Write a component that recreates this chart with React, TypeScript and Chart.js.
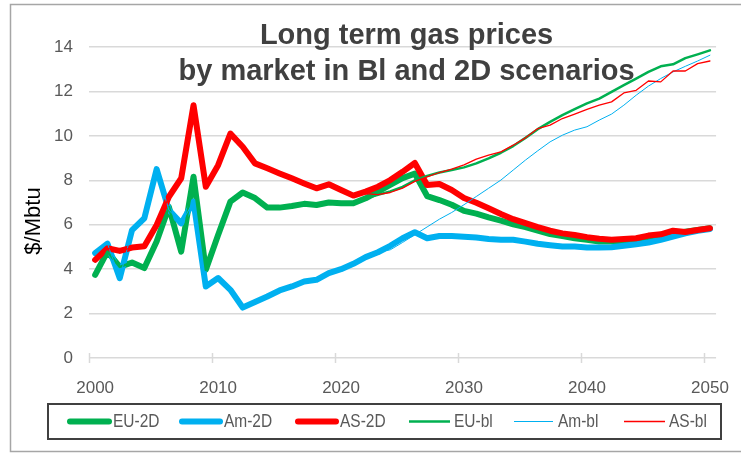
import React, { useEffect, useRef } from "react";
import { Chart, registerables } from "chart.js";

Chart.register(...registerables);

// ---------- DATA ----------
const years = [
  2000, 2001, 2002, 2003, 2004, 2005, 2006, 2007, 2008, 2009,
  2010, 2011, 2012, 2013, 2014, 2015, 2016, 2017, 2018, 2019,
  2020, 2021, 2022, 2023, 2024, 2025, 2026, 2027, 2028, 2029,
  2030, 2031, 2032, 2033, 2034, 2035, 2036, 2037, 2038, 2039,
  2040, 2041, 2042, 2043, 2044, 2045, 2046, 2047, 2048, 2049, 2050,
];

const xTickYears = [2000, 2010, 2020, 2030, 2040, 2050];
const yTickValues = [0, 2, 4, 6, 8, 10, 12, 14];

const eu2D = [
  3.74, 4.79, 4.1, 4.3, 4.05, 5.24, 6.8, 4.79, 8.16, 3.97,
  5.54, 7.04, 7.45, 7.2, 6.77, 6.77, 6.84, 6.94, 6.89, 7.0,
  6.97, 6.97, 7.19, 7.49, 7.79, 8.1, 8.3, 7.29, 7.11, 6.9,
  6.62, 6.5, 6.33, 6.18, 6.02, 5.89, 5.73, 5.58, 5.49, 5.39,
  5.32, 5.24, 5.24, 5.27, 5.32, 5.39, 5.49, 5.61, 5.69, 5.76, 5.84,
];
const am2D = [
  4.72, 5.15, 3.59, 5.76, 6.29, 8.5, 6.66, 6.06, 7.04, 3.22,
  3.6, 3.07, 2.27, 2.52, 2.77, 3.04, 3.22, 3.44, 3.52, 3.82,
  4.0, 4.24, 4.54, 4.76, 5.05, 5.39, 5.66, 5.39, 5.49, 5.49,
  5.46, 5.42, 5.36, 5.32, 5.32, 5.24, 5.14, 5.08, 5.02, 5.02,
  4.97, 4.97, 4.99, 5.05, 5.12, 5.2, 5.32, 5.46, 5.61, 5.73, 5.81,
];
const as2D = [
  4.42, 4.94, 4.82, 4.97, 5.03, 5.99, 7.26, 8.09, 11.38, 7.71,
  8.68, 10.1, 9.51, 8.76, 8.54, 8.31, 8.09, 7.86, 7.64, 7.82,
  7.56, 7.31, 7.49, 7.71, 8.01, 8.38, 8.78, 7.79, 7.83, 7.56,
  7.2, 6.99, 6.74, 6.48, 6.25, 6.07, 5.89, 5.73, 5.61, 5.54,
  5.44, 5.37, 5.32, 5.36, 5.39, 5.51, 5.57, 5.73, 5.67, 5.76, 5.84,
];
const euBl = [
  3.74, 4.79, 4.1, 4.3, 4.05, 5.24, 6.8, 4.79, 8.16, 3.97,
  5.54, 7.04, 7.45, 7.2, 6.77, 6.77, 6.84, 6.94, 6.89, 7.0,
  6.97, 6.97, 7.19, 7.35, 7.5, 7.7, 8.0, 8.2, 8.35, 8.46,
  8.58, 8.76, 8.99, 9.24, 9.54, 9.91, 10.3, 10.63, 10.93, 11.2,
  11.46, 11.68, 11.98, 12.28, 12.58, 12.88, 13.13, 13.22, 13.5, 13.67, 13.85,
];
const amBl = [
  4.72, 5.15, 3.59, 5.76, 6.29, 8.5, 6.66, 6.06, 7.04, 3.22,
  3.6, 3.07, 2.27, 2.52, 2.77, 3.04, 3.22, 3.44, 3.52, 3.82,
  4.0, 4.24, 4.54, 4.76, 4.87, 5.2, 5.55, 5.9, 6.25, 6.55,
  6.9, 7.27, 7.64, 8.01, 8.46, 8.91, 9.33, 9.73, 10.03, 10.26,
  10.41, 10.71, 10.98, 11.38, 11.83, 12.24, 12.58, 12.88, 13.13, 13.37, 13.63,
];
const asBl = [
  4.42, 4.94, 4.82, 4.97, 5.03, 5.99, 7.26, 8.09, 11.38, 7.71,
  8.68, 10.1, 9.51, 8.76, 8.54, 8.31, 8.09, 7.86, 7.64, 7.82,
  7.56, 7.31, 7.4, 7.35, 7.45, 7.65, 7.95, 8.15, 8.35, 8.5,
  8.69, 8.95, 9.13, 9.28, 9.58, 9.91, 10.33, 10.48, 10.78, 10.98,
  11.19, 11.38, 11.53, 11.93, 12.05, 12.47, 12.43, 12.92, 12.92, 13.25, 13.37,
];

const seriesNames = ["EU-2D", "Am-2D", "AS-2D", "EU-bl", "Am-bl", "AS-bl"];
const titleLines = ["Long term gas prices", "by market in Bl and 2D scenarios"];
const yAxisTitle = "$/Mbtu";

// ---------- STYLES ----------
const GREEN = "#00B050";
const BLUE = "#00B0F0";
const RED = "#FF0000";
const seriesColors = [GREEN, BLUE, RED, GREEN, BLUE, RED];
const seriesWidths = [6, 6, 6, 2.5, 1, 1.3];
const FONT = "'Liberation Sans', Arial, sans-serif";
const GRID = "#d9d9d9";
const TEXT = "#595959";

const legendLayout = [
  { x: 67, len: 45, tx: 113 },
  { x: 179, len: 44, tx: 224 },
  { x: 295, len: 44, tx: 340 },
  { x: 409, len: 41, tx: 454 },
  { x: 514, len: 39, tx: 558 },
  { x: 624, len: 41, tx: 669 },
];

const decorPlugin = {
  id: "decor",
  afterDraw(chart: any) {
    const ctx = chart.ctx as CanvasRenderingContext2D;
    const area = chart.chartArea;
    const xs = chart.scales.x;
    ctx.save();

    // outer frame
    ctx.strokeStyle = "#a6a6a6";
    ctx.lineWidth = 1.5;
    ctx.strokeRect(10.5, 4.5, 760, 447);

    // x tick marks at category boundaries
    const half = (xs.getPixelForValue(1) - xs.getPixelForValue(0)) / 2;
    ctx.strokeStyle = GRID;
    ctx.lineWidth = 1.5;
    xTickYears.forEach((yr) => {
      const idx = years.indexOf(yr);
      const px = Math.round(xs.getPixelForValue(idx) - half) + 0.5;
      ctx.beginPath();
      ctx.moveTo(px, area.bottom - 5);
      ctx.lineTo(px, area.bottom + 5);
      ctx.stroke();
    });

    // title
    ctx.fillStyle = "#404040";
    ctx.font = `bold 29px ${FONT}`;
    ctx.textAlign = "center";
    ctx.textBaseline = "alphabetic";
    const cx = (area.left + area.right) / 2 + 4;
    ctx.fillText(titleLines[0], cx, area.top - 3);
    ctx.fillText(titleLines[1], cx, area.top + 33);

    // y axis title
    ctx.save();
    ctx.translate(34, 221);
    ctx.rotate(-Math.PI / 2);
    ctx.fillStyle = "#000000";
    ctx.font = `22px ${FONT}`;
    ctx.textAlign = "center";
    ctx.textBaseline = "middle";
    ctx.fillText(yAxisTitle, 0, 0);
    ctx.restore();

    // legend box
    ctx.strokeStyle = "#404040";
    ctx.lineWidth = 2;
    ctx.strokeRect(48, 404, 673, 35);
    const ly = 421.5;
    seriesNames.forEach((name, i) => {
      const L = legendLayout[i];
      ctx.strokeStyle = seriesColors[i];
      ctx.lineWidth = seriesWidths[i];
      ctx.lineCap = seriesWidths[i] > 3 ? "round" : "butt";
      const inset = seriesWidths[i] > 3 ? seriesWidths[i] / 2 : 0;
      ctx.beginPath();
      ctx.moveTo(L.x + inset, ly);
      ctx.lineTo(L.x + L.len - inset, ly);
      ctx.stroke();
      ctx.save();
      ctx.translate(L.tx, ly + 1);
      ctx.scale(0.86, 1);
      ctx.fillStyle = TEXT;
      ctx.font = `18px ${FONT}`;
      ctx.textAlign = "left";
      ctx.textBaseline = "middle";
      ctx.fillText(name, 0, 0);
      ctx.restore();
    });

    ctx.restore();
  },
};

export default function App() {
  const ref = useRef<HTMLCanvasElement | null>(null);

  useEffect(() => {
    if (!ref.current) return;
    const allSeries = [eu2D, am2D, as2D, euBl, amBl, asBl];
    const chart = new Chart(ref.current, {
      type: "line",
      data: {
        labels: years.map(String),
        datasets: allSeries.map((d, i) => ({
          label: seriesNames[i],
          data: d,
          borderColor: seriesColors[i],
          backgroundColor: seriesColors[i],
          borderWidth: seriesWidths[i],
          pointRadius: 0,
          pointHoverRadius: 0,
          tension: 0,
          fill: false,
          borderJoinStyle: "round",
          borderCapStyle: "round",
          order: allSeries.length - i,
        })),
      },
      options: {
        animation: false,
        responsive: false,
        devicePixelRatio: 1,
        layout: { padding: { top: 47, right: 17, left: 0, bottom: 0 } },
        plugins: {
          legend: { display: false },
          title: { display: false },
          tooltip: { enabled: false },
        },
        scales: {
          x: {
            type: "category",
            offset: true,
            grid: { display: false },
            border: { display: false },
            ticks: {
              autoSkip: false,
              maxRotation: 0,
              minRotation: 0,
              padding: 12,
              color: TEXT,
              font: { family: FONT, size: 17 },
              callback: (_v: any, i: number) =>
                xTickYears.includes(years[i]) ? String(years[i]) : "",
            },
            afterFit: (s: any) => {
              s.height = 95;
            },
          },
          y: {
            min: 0,
            max: 14,
            afterBuildTicks: (s: any) => {
              s.ticks = yTickValues.map((v) => ({ value: v }));
            },
            ticks: {
              padding: 16,
              color: TEXT,
              font: { family: FONT, size: 17 },
            },
            grid: { color: GRID, lineWidth: 1.5, drawTicks: false },
            border: { display: false },
            afterFit: (s: any) => {
              s.width = 89;
            },
          },
        },
      },
      plugins: [decorPlugin],
    });
    return () => chart.destroy();
  }, []);

  return (
    <div style={{ position: "fixed", left: 0, top: 0, width: 741, height: 453, background: "#fff" }}>
      <canvas ref={ref} width={741} height={453} style={{ display: "block" }} />
    </div>
  );
}
